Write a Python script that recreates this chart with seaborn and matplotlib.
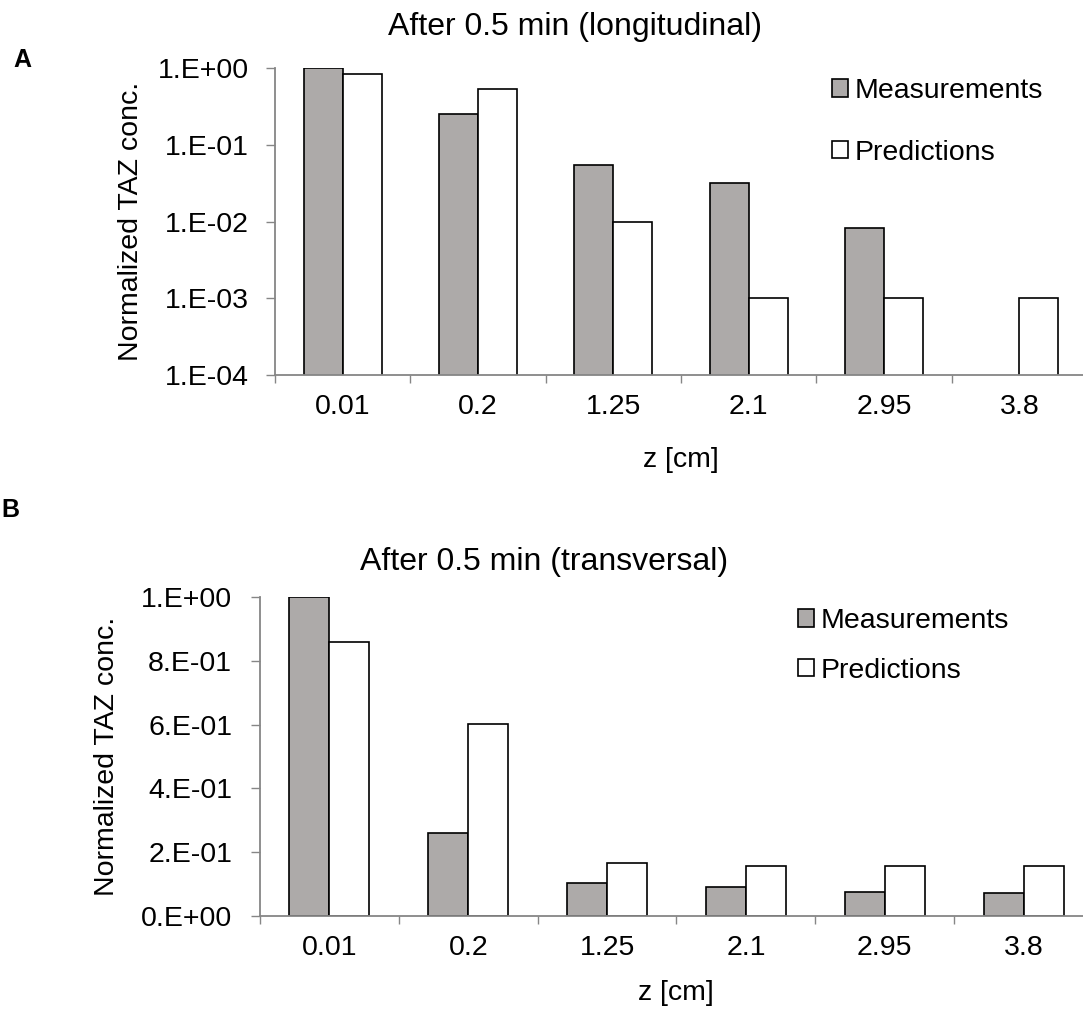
import numpy as np
import pandas as pd
import matplotlib
matplotlib.use("Agg")
import matplotlib.pyplot as plt
import seaborn as sns
from matplotlib.patches import Patch
from matplotlib.ticker import FixedLocator, FuncFormatter

# data
z_labels = ["0.01", "0.2", "1.25", "2.1", "2.95", "3.8"]
series = ["Measurements", "Predictions"]

long_meas = [1.0, 0.25, 0.054, 0.032, 0.0083, np.nan]
long_pred = [0.84, 0.53, 0.010, 0.001, 0.001, 0.001]

trans_meas = [1.0, 0.26, 0.103, 0.090, 0.076, 0.073]
trans_pred = [0.86, 0.603, 0.165, 0.157, 0.157, 0.157]

GRAY = "#ADAAA9"
AXIS = "#868686"
FS = 20.5


def excel_sci(v, pos=None):
    # mimic Excel's "0.E+00" number format
    if v <= 0:
        return "0.E+00"
    e = int(np.floor(np.log10(v) + 1e-9))
    m = int(round(v / 10 ** e))
    return f"{m}.E{e:+03d}"


def make_df(meas, pred):
    df = pd.DataFrame({
        "z": z_labels * 2,
        "series": [series[0]] * len(z_labels) + [series[1]] * len(z_labels),
        "value": list(meas) + list(pred),
    })
    return df.dropna()


def draw_panel(ax, df, ypad):
    sns.barplot(
        data=df, x="z", y="value", hue="series",
        order=z_labels, hue_order=series,
        palette=[GRAY, "white"], edgecolor="black", linewidth=1.2,
        width=0.576, errorbar=None, saturation=1, legend=False, ax=ax,
    )
    ax.set_xlim(-0.5, len(z_labels) - 0.5)
    sns.despine(ax=ax)
    for s in ["left", "bottom"]:
        ax.spines[s].set_color(AXIS)
        ax.spines[s].set_linewidth(1.3)
    ax.set_xlabel("")
    ax.set_ylabel("")
    # category labels at centres, tick marks at the boundaries
    ax.xaxis.set_minor_locator(FixedLocator(np.arange(-0.5, len(z_labels), 1.0)))
    ax.tick_params(axis="x", which="major", bottom=True, length=0, pad=13.5,
                   labelsize=FS, labelcolor="black")
    ax.tick_params(axis="x", which="minor", bottom=True, length=5.5, width=1, color=AXIS)
    ax.tick_params(axis="y", which="major", left=True, length=6.5, width=1, color=AXIS,
                   pad=ypad, labelsize=FS, labelcolor="black")
    ax.tick_params(axis="y", which="minor", left=False, length=0)


sns.set_style("white")
plt.rcParams["font.family"] = ["Liberation Sans", "DejaVu Sans"]
plt.rcParams["text.color"] = "black"

fig = plt.figure(figsize=(10.83, 10.11), dpi=100)
W, H = 1083, 1011

# panel A: longitudinal, log scale
ax1 = fig.add_axes([275 / W, 1 - 375 / H, 812 / W, 307 / H])
draw_panel(ax1, make_df(long_meas, long_pred), 12.5)
ax1.set_yscale("log")
ax1.set_ylim(1e-4, 1)
ax1.yaxis.set_major_locator(FixedLocator([1e-4, 1e-3, 1e-2, 1e-1, 1]))
ax1.yaxis.set_major_formatter(FuncFormatter(excel_sci))
ax1.yaxis.set_minor_locator(FixedLocator([]))

# panel B: transversal, linear scale
ax2 = fig.add_axes([260 / W, 1 - 916 / H, 833 / W, 319 / H])
draw_panel(ax2, make_df(trans_meas, trans_pred), 13.5)
ax2.set_ylim(0, 1)
ax2.yaxis.set_major_locator(FixedLocator([0, 0.2, 0.4, 0.6, 0.8, 1.0]))
ax2.yaxis.set_major_formatter(FuncFormatter(excel_sci))

# titles, axis labels, panel letters
fig.text(575 / W, 1 - 27 / H, "After 0.5 min (longitudinal)", ha="center", va="center", fontsize=23)
fig.text(544 / W, 1 - 562 / H, "After 0.5 min (transversal)", ha="center", va="center", fontsize=23)
fig.text(131 / W, 1 - 221 / H, "Normalized TAZ conc.", rotation=90, ha="center", va="center", fontsize=FS)
fig.text(107 / W, 1 - 756 / H, "Normalized TAZ conc.", rotation=90, ha="center", va="center", fontsize=FS)
fig.text(681 / W, 1 - 460 / H, "z [cm]", ha="center", va="center", fontsize=FS)
fig.text(676 / W, 1 - 993 / H, "z [cm]", ha="center", va="center", fontsize=FS)
fig.text(22 / W, 1 - 60 / H, "A", ha="center", va="center", fontsize=18, fontweight="bold")
fig.text(10 / W, 1 - 510 / H, "B", ha="center", va="center", fontsize=18, fontweight="bold")

handles = [
    Patch(facecolor=GRAY, edgecolor="black", linewidth=1.2, label=series[0]),
    Patch(facecolor="white", edgecolor="black", linewidth=1.2, label=series[1]),
]
for ax, (lx, ly), spacing in [(ax1, (832, 78), 1.26), (ax2, (798, 608), 0.83)]:
    ax.legend(
        handles=handles, loc="upper left",
        bbox_to_anchor=(lx / W, 1 - ly / H), bbox_transform=fig.transFigure,
        frameon=False, fontsize=FS, handlelength=0.56, handleheight=0.56,
        handletextpad=0.25, labelspacing=spacing, borderpad=0, borderaxespad=0,
    )

fig.savefig("out.png", dpi=100)
